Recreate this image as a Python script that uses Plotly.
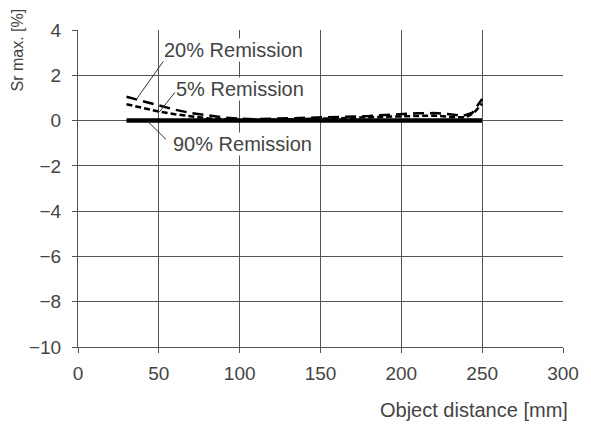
import plotly.graph_objects as go

# Data
x_90 = [30, 250]
y_90 = [0, 0]

x_20 = [30, 40, 50, 60, 70, 80, 90, 100, 110, 120, 130, 140, 150, 160, 170, 180, 190, 200, 210, 220, 230, 238, 244, 250]
y_20 = [1.05, 0.85, 0.65, 0.48, 0.33, 0.22, 0.14, 0.08, 0.06, 0.08, 0.10, 0.10, 0.12, 0.15, 0.18, 0.20, 0.25, 0.30, 0.32, 0.33, 0.28, 0.20, 0.35, 0.95]

x_5 = [30, 40, 50, 60, 70, 80, 90, 100, 120, 140, 160, 180, 200, 220, 232, 240, 245, 250]
y_5 = [0.72, 0.55, 0.40, 0.28, 0.18, 0.10, 0.06, 0.04, 0.04, 0.06, 0.10, 0.15, 0.20, 0.22, 0.15, 0.14, 0.35, 0.75]

x_ticks = [0, 50, 100, 150, 200, 250, 300]
y_ticks = [-10, -8, -6, -4, -2, 0, 2, 4]

labels = ["20% Remission", "5% Remission", "90% Remission"]
label_x = [52.6, 60.0, 58.0]
label_y = [3.13, 1.39, -1.04]
leader_x0 = [52.8, 60.0, 43.5]
leader_y0 = [2.62, 1.25, -0.06]
leader_x1 = [36.3, 50.3, 54.4]
leader_y1 = [0.96, 0.38, -0.83]

FONT = "Liberation Sans"
TXT = "#444444"
GRID = "#555555"

fig = go.Figure()
fig.add_trace(go.Scatter(x=x_90, y=y_90, mode="lines", line=dict(color="black", width=4.5), name="90%"))
fig.add_trace(go.Scatter(x=x_20, y=y_20, mode="lines", line=dict(color="black", width=2.5, dash="11px,6px"), name="20%"))
fig.add_trace(go.Scatter(x=x_5, y=y_5, mode="lines", line=dict(color="black", width=2.5, dash="6px,3px"), name="5%"))

for t, lx, ly in zip(labels, label_x, label_y):
    fig.add_annotation(x=lx, y=ly, text=t, showarrow=False, xanchor="left", yanchor="middle",
                       font=dict(family=FONT, size=20, color=TXT), bgcolor="white", borderpad=0)
for a, b, c, d in zip(leader_x0, leader_y0, leader_x1, leader_y1):
    fig.add_shape(type="line", x0=a, y0=b, x1=c, y1=d, line=dict(color="#333333", width=1))

fig.add_annotation(xref="paper", yref="paper", x=1.015, y=-0.2, text="Object distance [mm]", showarrow=False,
                   xanchor="right", yanchor="middle", font=dict(family=FONT, size=20, color=TXT))
fig.add_annotation(xref="paper", yref="paper", x=-0.124, y=0.938, text="Sr max. [%]", showarrow=False, textangle=-90,
                   xanchor="center", yanchor="middle", font=dict(family=FONT, size=16, color=TXT))

fig.update_layout(
    width=583, height=424,
    margin=dict(l=70, r=28, t=17, b=85),
    paper_bgcolor="white", plot_bgcolor="white",
    showlegend=False,
    font=dict(family=FONT, size=19, color=TXT),
)
fig.update_xaxes(range=[0, 300], tickvals=x_ticks, showgrid=True, gridcolor=GRID, gridwidth=1,
                 showline=True, linecolor=GRID, linewidth=1, ticks="outside", ticklen=5, tickcolor=GRID,
                 ticklabelstandoff=4,
                 zeroline=False, tickfont=dict(family=FONT, size=19, color=TXT))
fig.update_yaxes(range=[-10, 4], tickvals=y_ticks, showgrid=True, gridcolor=GRID, gridwidth=1,
                 showline=True, linecolor=GRID, linewidth=1, ticks="outside", ticklen=5, tickcolor=GRID,
                 ticklabelstandoff=7,
                 zeroline=False, tickfont=dict(family=FONT, size=19, color=TXT))

fig.write_html("out.html")
